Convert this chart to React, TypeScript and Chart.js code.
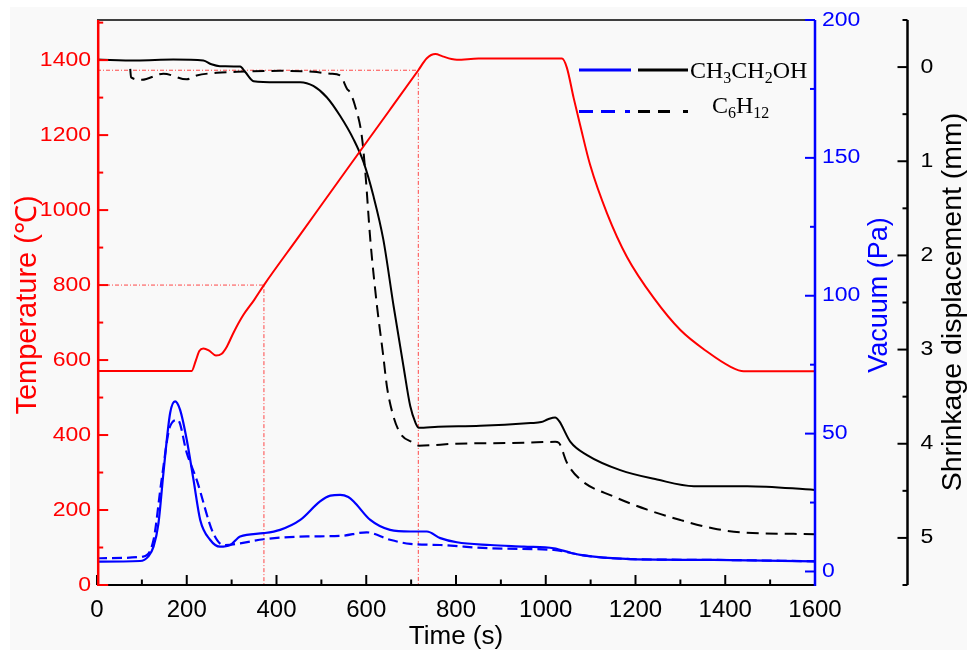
import React, { useEffect, useRef } from "react";
import { Chart, registerables } from "chart.js";

Chart.register(...registerables);

// ---------------- data ----------------
const xTicks = [0, 200, 400, 600, 800, 1000, 1200, 1400, 1600];
const tempTicks = [0, 200, 400, 600, 800, 1000, 1200, 1400];
const vacTicks = [0, 50, 100, 150, 200];
const shrinkTicks = [0, 1, 2, 3, 4, 5];

const tempTime = [0, 100, 211, 220, 228, 237, 250, 265, 278, 289, 305, 326, 350, 372, 450, 550, 650, 716, 735, 754, 770, 790, 802, 850, 950, 1036, 1047, 1062, 1077, 1099, 1137, 1181, 1241, 1300, 1360, 1412, 1441, 1500, 1600];
const tempValues = [571, 571, 571, 598, 624, 631, 625, 612, 617, 635, 675, 720, 760, 800, 930, 1097, 1263, 1373, 1405, 1416, 1410, 1403, 1401, 1404, 1404, 1404, 1380, 1300, 1225, 1120, 990, 875, 765, 680, 622, 582, 570, 570, 570];

const ethShrinkTime = [0, 88, 170, 237, 255, 274, 319, 330, 349, 400, 453, 482, 512, 542, 572, 594, 616, 638, 661, 683, 698, 710, 717, 760, 854, 966, 990, 1005, 1021, 1030, 1055, 1092, 1166, 1248, 1330, 1449, 1600];
const ethShrink = [-0.08, -0.07, -0.08, -0.07, -0.03, -0.01, -0.005, 0.05, 0.15, 0.16, 0.16, 0.2, 0.32, 0.52, 0.77, 1.01, 1.37, 1.83, 2.54, 3.18, 3.6, 3.78, 3.83, 3.82, 3.81, 3.78, 3.77, 3.74, 3.72, 3.76, 3.98, 4.12, 4.28, 4.38, 4.45, 4.45, 4.49];

const cycShrinkTime = [74, 76, 100, 148, 200, 222, 267, 312, 408, 482, 520, 542, 557, 564, 575, 590, 598, 609, 624, 638, 646, 660, 676, 705, 717, 800, 951, 1021, 1029, 1047, 1077, 1151, 1226, 1300, 1374, 1434, 1600];
const cycShrink = [0.02, 0.11, 0.135, 0.07, 0.13, 0.09, 0.06, 0.05, 0.04, 0.05, 0.07, 0.09, 0.23, 0.27, 0.41, 0.73, 1.12, 1.83, 2.54, 3.07, 3.39, 3.7, 3.89, 3.99, 4.02, 4.0, 3.99, 3.98, 3.99, 4.2, 4.38, 4.56, 4.7, 4.81, 4.9, 4.94, 4.96];

const ethVacTime = [0, 96, 114, 126, 137, 148, 163, 174, 185, 200, 215, 230, 252, 274, 297, 319, 371, 408, 453, 497, 520, 542, 560, 572, 609, 653, 698, 735, 765, 802, 876, 951, 1018, 1055, 1077, 1189, 1374, 1600];
const ethVac = [3.6, 3.8, 5.4, 9, 17.5, 35.7, 57.5, 61.7, 58.7, 47.8, 33.3, 18.7, 11.5, 9.0, 9.6, 12.7, 13.9, 15.1, 18.7, 25.4, 27.5, 27.8, 27, 25.4, 18.7, 15.1, 14.5, 14.5, 12.1, 10.6, 9.6, 9.0, 8.4, 6.8, 6.0, 4.5, 4.2, 3.7];

const cycVacTime = [0, 103, 126, 144, 163, 180, 200, 222, 259, 282, 319, 371, 468, 542, 601, 653, 698, 765, 876, 1018, 1055, 1077, 1189, 1374, 1600];
const cycVac = [4.8, 5.4, 11.5, 33.3, 52.7, 55, 43, 33.3, 13.9, 9.6, 10.2, 11.7, 12.7, 12.9, 14.2, 11.5, 10.0, 9.6, 8.4, 7.8, 6.8, 6.0, 4.5, 4.2, 3.7];

const refTemps = [1373, 800];
const refTimes = [716, 372];

const legendNames = ["CH3CH2OH", "C6H12"];

// ---------------- helpers ----------------
const W = 967;
const H = 650;
const SANS = '"Liberation Sans", Arial, sans-serif';
const SERIF = '"Liberation Serif", "Times New Roman", serif';
const RED = "#ff0000";
const BLUE = "#0000ff";

const pts = (xs: number[], ys: number[]) => xs.map((x, i) => ({ x, y: ys[i] }));

function line(ctx: CanvasRenderingContext2D, x1: number, y1: number, x2: number, y2: number, color: string, w: number, dash: number[] = []) {
  ctx.save();
  ctx.strokeStyle = color;
  ctx.lineWidth = w;
  ctx.setLineDash(dash);
  ctx.beginPath();
  ctx.moveTo(x1, y1);
  ctx.lineTo(x2, y2);
  ctx.stroke();
  ctx.restore();
}

function txt(ctx: CanvasRenderingContext2D, s: string, x: number, y: number, font: string, color: string, align: CanvasTextAlign, baseline: CanvasTextBaseline, sx = 1, rot = 0) {
  ctx.save();
  ctx.translate(x, y);
  if (rot) ctx.rotate(rot);
  ctx.scale(sx, 1);
  ctx.font = font;
  ctx.fillStyle = color;
  ctx.textAlign = align;
  ctx.textBaseline = baseline;
  ctx.fillText(s, 0, 0);
  ctx.restore();
}

function chem(ctx: CanvasRenderingContext2D, s: string, x: number, base: number) {
  const parts = s.match(/\d+|\D+/g) || [];
  let cx = x;
  ctx.save();
  ctx.fillStyle = "#000";
  ctx.textBaseline = "alphabetic";
  ctx.textAlign = "left";
  for (const p of parts) {
    const sub = /\d/.test(p);
    ctx.font = sub ? `16px ${SERIF}` : `24px ${SERIF}`;
    ctx.fillText(p, cx, sub ? base + 5 : base);
    cx += ctx.measureText(p).width;
  }
  ctx.restore();
}

const decorPlugin = {
  id: "decor",
  beforeDraw(chart: any) {
    const ctx = chart.ctx as CanvasRenderingContext2D;
    ctx.save();
    ctx.fillStyle = "#ffffff";
    ctx.fillRect(0, 0, W, H);
    ctx.fillStyle = "#f9f9f9";
    ctx.fillRect(10, 7, W - 10, H - 7);
    ctx.restore();
  },
  afterDraw(chart: any) {
    const ctx = chart.ctx as CanvasRenderingContext2D;
    const { left, right, top, bottom } = chart.chartArea;
    const sx = chart.scales.x;
    const sT = chart.scales.yT;
    const sV = chart.scales.yV;
    const sS = chart.scales.yS;

    // top frame
    line(ctx, left, top, right, top, "#000", 1.5);

    // bottom axis
    line(ctx, left, bottom, right, bottom, "#000", 2);
    for (let v = 0; v <= 1600; v += 100) {
      const px = sx.getPixelForValue(v);
      const major = v % 200 === 0;
      line(ctx, px, bottom, px, bottom - (major ? 10 : 5.5), "#000", 2);
    }
    xTicks.forEach((v) => {
      txt(ctx, String(v), sx.getPixelForValue(v), bottom + 32, `24px ${SANS}`, "#000", "center", "alphabetic");
    });

    // left temperature axis
    const lx = left + 1.2;
    line(ctx, lx, top, lx, bottom + 1, RED, 2.5);
    for (let v = 0; v <= 1500; v += 100) {
      const py = sT.getPixelForValue(v);
      if (py < top) continue;
      const major = v % 200 === 0;
      line(ctx, lx, py, lx + (major ? 10 : 5), py, RED, 2);
    }
    tempTicks.forEach((v) => {
      txt(ctx, String(v), left - 6, sT.getPixelForValue(v), `20px ${SANS}`, RED, "right", "middle", 1.15);
    });

    // right vacuum axis
    const rx = right;
    line(ctx, rx, top, rx, bottom + 1, BLUE, 2.5);
    for (let v = 0; v <= 200; v += 25) {
      const py = sV.getPixelForValue(v);
      const major = v % 50 === 0;
      line(ctx, rx, py, rx - (major ? 10 : 5), py, BLUE, 2);
    }
    vacTicks.forEach((v) => {
      txt(ctx, String(v), rx + 7, sV.getPixelForValue(v), `20px ${SANS}`, BLUE, "left", "middle", 1.15);
    });

    // third axis (shrinkage)
    const ax = 907.5;
    line(ctx, ax, top, ax, bottom, "#000", 2.5);
    for (let v = -0.5; v <= 5.5001; v += 0.5) {
      const py = sS.getPixelForValue(v);
      const major = Math.abs(v - Math.round(v)) < 1e-6;
      line(ctx, ax, py, ax - (major ? 10 : 5), py, "#000", 2);
    }
    shrinkTicks.forEach((v) => {
      txt(ctx, String(v), ax + 13, sS.getPixelForValue(v), `20px ${SANS}`, "#000", "left", "middle", 1.15);
    });

    // titles
    txt(ctx, "Time (s)", (left + right) / 2, 644, `26px ${SANS}`, "#000", "center", "alphabetic");
    txt(ctx, "Temperature (\u2103)", 36, 305, `29px ${SANS}`, RED, "center", "alphabetic", 1, -Math.PI / 2);
    txt(ctx, "Vacuum (Pa)", 887, 295, `27px ${SANS}`, BLUE, "center", "alphabetic", 1, -Math.PI / 2);
    txt(ctx, "Shrinkage displacement (mm)", 961, 302, `28.5px ${SANS}`, "#000", "center", "alphabetic", 1, -Math.PI / 2);

    // legend
    const y1 = 70;
    const y2 = 111.5;
    line(ctx, 579, y1, 631, y1, BLUE, 3);
    line(ctx, 638, y1, 688, y1, "#000", 3);
    chem(ctx, legendNames[0], 690, 78);
    line(ctx, 579, y2, 631, y2, BLUE, 3, [14, 8, 14, 10, 5, 200]);
    line(ctx, 638, y2, 688, y2, "#000", 3, [12, 8, 12, 13, 5, 200]);
    chem(ctx, legendNames[1], 712, 113);
  },
};

export default function App() {
  const ref = useRef<HTMLCanvasElement | null>(null);

  useEffect(() => {
    if (!ref.current) return;
    const refDatasets = refTemps.map((T, i) => ({
      data: [
        { x: 0, y: T },
        { x: refTimes[i], y: T },
        { x: refTimes[i], y: 0 },
      ],
      yAxisID: "yT",
      borderColor: "rgba(255,40,40,0.85)",
      borderWidth: 1,
      borderDash: [4, 2, 1, 2],
      tension: 0,
    }));
    const chart = new Chart(ref.current, {
      type: "line",
      data: {
        datasets: [
          { data: pts(tempTime, tempValues), yAxisID: "yT", borderColor: RED, borderWidth: 2, cubicInterpolationMode: "monotone" },
          { data: pts(ethShrinkTime, ethShrink), yAxisID: "yS", borderColor: "#000", borderWidth: 2, cubicInterpolationMode: "monotone" },
          { data: pts(cycShrinkTime, cycShrink), yAxisID: "yS", borderColor: "#000", borderWidth: 2, borderDash: [12, 7], cubicInterpolationMode: "monotone" },
          { data: pts(ethVacTime, ethVac), yAxisID: "yV", borderColor: BLUE, borderWidth: 2.2, cubicInterpolationMode: "monotone" },
          { data: pts(cycVacTime, cycVac), yAxisID: "yV", borderColor: BLUE, borderWidth: 2.2, borderDash: [10, 5], cubicInterpolationMode: "monotone" },
          ...refDatasets,
        ] as any,
      },
      options: {
        responsive: false,
        animation: false,
        devicePixelRatio: 1,
        layout: { padding: { left: 97, right: 152, top: 20, bottom: 65 } },
        plugins: { legend: { display: false }, tooltip: { enabled: false } },
        elements: { point: { radius: 0 } },
        scales: {
          x: { type: "linear", min: 0, max: 1600, display: false },
          yT: { type: "linear", min: 0, max: 1507, display: false },
          yV: { type: "linear", min: -4.9, max: 200, display: false },
          yS: { type: "linear", min: -0.5, max: 5.5, reverse: true, display: false },
        },
      } as any,
      plugins: [decorPlugin],
    });
    return () => chart.destroy();
  }, []);

  return (
    <div style={{ position: "absolute", left: 0, top: 0, width: W, height: H }}>
      <canvas ref={ref} width={W} height={H} style={{ display: "block", width: W, height: H }} />
    </div>
  );
}
